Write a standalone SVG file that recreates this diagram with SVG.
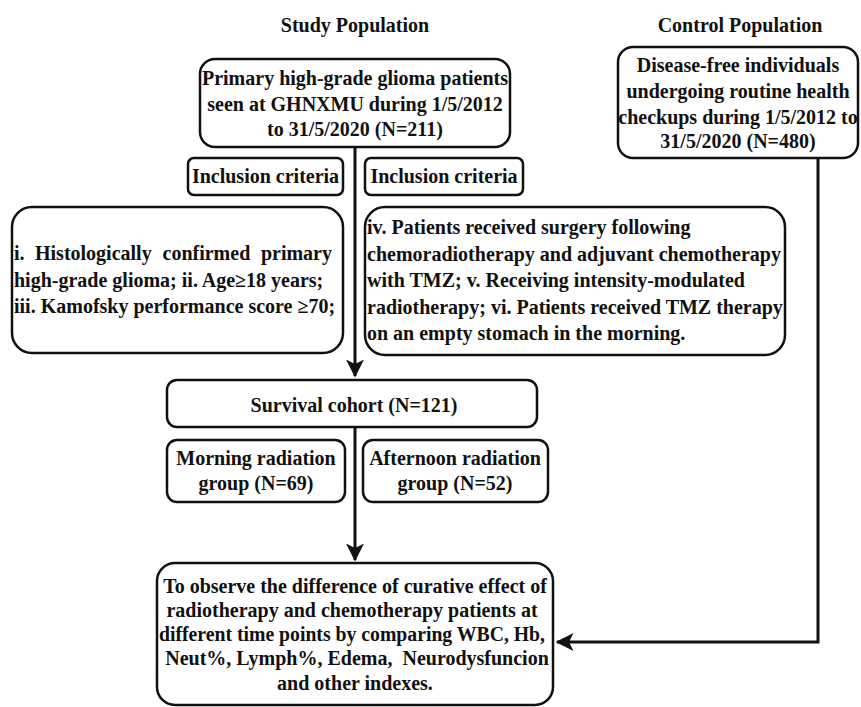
<svg xmlns="http://www.w3.org/2000/svg" width="861" height="707" viewBox="0 0 861 707">
<style>
text{font-family:'Liberation Serif','Times New Roman',serif;font-weight:bold;fill:#111;font-size:20px}
.c{text-anchor:middle}
rect{fill:#fff;stroke:#111;stroke-width:2.5}
.ln{fill:none;stroke:#111;stroke-width:3}
</style>
<defs>
<marker id="ah" markerWidth="6" markerHeight="6" refX="5.5" refY="3" orient="auto" markerUnits="strokeWidth" viewBox="0 0 6 6">
<path d="M0,0 L6,3 L0,6 L1.5,3 Z" fill="#111"/>
</marker>
</defs>
<rect x="0" y="0" width="861" height="707" style="stroke:none;fill:#fff"/>
<text class="c" x="355" y="32">Study Population</text>
<text class="c" x="740" y="32">Control Population</text>
<g id="connectors">
<path class="ln" d="M355,147 L355,376" marker-end="url(#ah)"/>
<path class="ln" d="M355,427 L355,560" marker-end="url(#ah)"/>
<path class="ln" d="M818,158 L818,642 L557,642" marker-end="url(#ah)"/>
</g>
<g id="primary">
<rect x="200" y="59" width="310" height="88" rx="15"/>
<text class="c" x="355" y="85">Primary high-grade glioma patients</text>
<text class="c" x="355" y="111">seen at GHNXMU during 1/5/2012</text>
<text class="c" x="355" y="136">to 31/5/2020 (N=211)</text>
</g>
<g id="control">
<rect x="618" y="47" width="240" height="111" rx="15"/>
<text class="c" x="738" y="72">Disease-free individuals</text>
<text class="c" x="738" y="98">undergoing routine health</text>
<text class="c" x="738" y="124">checkups during 1/5/2012 to</text>
<text class="c" x="738" y="148">31/5/2020 (N=480)</text>
</g>
<g id="inclusion-left">
<rect x="188" y="158" width="155" height="37" rx="6"/>
<text class="c" x="265.5" y="183">Inclusion criteria</text>
</g>
<g id="inclusion-right">
<rect x="365" y="158" width="158" height="37" rx="6"/>
<text class="c" x="444" y="183">Inclusion criteria</text>
</g>
<g id="criteria-left">
<rect x="12" y="207" width="331" height="146" rx="20"/>
<text x="14" y="260">i.</text>
<text x="35" y="260">Histologically</text>
<text x="162.5" y="260">confirmed</text>
<text x="332" y="260" text-anchor="end">primary</text>
<text x="14" y="287">high-grade glioma; ii. Age≥18 years;</text>
<text x="14" y="313">iii. Kamofsky performance score ≥70;</text>
</g>
<g id="criteria-right">
<rect x="365" y="207" width="420" height="148" rx="20"/>
<text x="367" y="234">iv. Patients received surgery following</text>
<text x="367" y="261">chemoradiotherapy and adjuvant chemotherapy</text>
<text x="367" y="287">with TMZ; v. Receiving intensity-modulated</text>
<text x="367" y="314">radiotherapy; vi. Patients received TMZ therapy</text>
<text x="367" y="340">on an empty stomach in the morning.</text>
</g>
<g id="survival">
<rect x="167" y="380" width="370" height="47" rx="10"/>
<text class="c" x="354" y="412">Survival cohort (N=121)</text>
</g>
<g id="morning">
<rect x="167" y="440" width="178" height="62" rx="10"/>
<text class="c" x="256" y="465">Morning radiation</text>
<text class="c" x="256" y="490">group (N=69)</text>
</g>
<g id="afternoon">
<rect x="363" y="440" width="185" height="62" rx="10"/>
<text class="c" x="455" y="465">Afternoon radiation</text>
<text class="c" x="455" y="490">group (N=52)</text>
</g>
<g id="outcome">
<rect x="157" y="563" width="396" height="142" rx="18"/>
<text class="c" x="355" y="593">To observe the difference of curative effect of</text>
<text class="c" x="352" y="617">radiotherapy and chemotherapy patients at</text>
<text class="c" x="352" y="641" textLength="386" lengthAdjust="spacingAndGlyphs">different time points by comparing WBC, Hb,</text>
<text class="c" x="357" y="665">Neut%, Lymph%, Edema,&#160; Neurodysfuncion</text>
<text class="c" x="355" y="690">and other indexes.</text>
</g>
</svg>
